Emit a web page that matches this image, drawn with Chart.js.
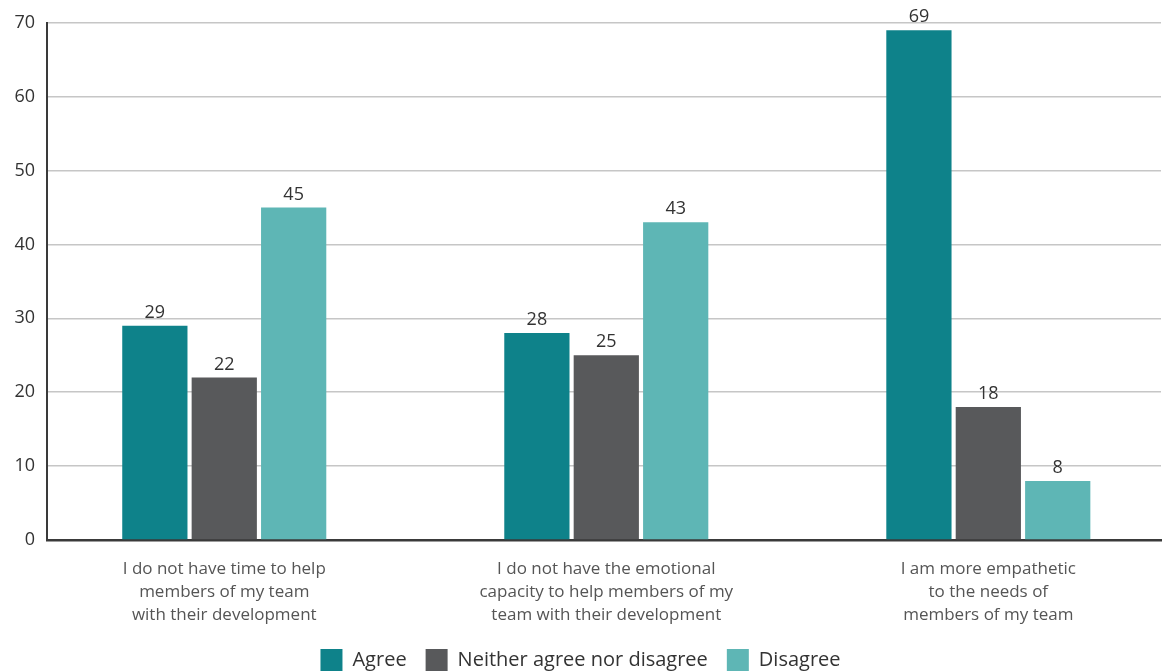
<!DOCTYPE html>
<html>
<head>
<meta charset="utf-8">
<script src="https://cdn.jsdelivr.net/npm/chart.js@4/dist/chart.umd.min.js"></script>
<style>
  html, body { margin: 0; padding: 0; background: #fff; }
  #wrap { width: 1163px; height: 671px; position: relative; }
</style>
</head>
<body>
<div id="wrap"><canvas id="myChart"></canvas></div>
<script>
var categories = [
    ['I do not have time to help', 'members of my team', 'with their development'],
    ['I do not have the emotional', 'capacity to help members of my', 'team with their development'],
    ['I am more empathetic', 'to the needs of', 'members of my team']
];
var seriesNames = ['Agree', 'Neither agree nor disagree', 'Disagree'];
var agree = [29, 28, 69];
var neither = [22, 25, 18];
var disagree = [45, 43, 8];
var yTicks = [0, 10, 20, 30, 40, 50, 60, 70];
var colors = ['#0e828a', '#58595b', '#5eb6b5'];

var FONT = "'Open Sans', 'DejaVu Sans', sans-serif";

function toPoints(arr) {
    return arr.map(function(v, i) { return { x: i, y: v }; });
}

// value labels above each bar
var valueLabels = {
    id: 'valueLabels',
    afterDatasetsDraw: function(chart) {
        var ctx = chart.ctx;
        ctx.save();
        ctx.font = '18px ' + FONT;
        ctx.fillStyle = '#333333';
        ctx.textAlign = 'center';
        ctx.textBaseline = 'bottom';
        chart.data.datasets.forEach(function(ds, di) {
            var meta = chart.getDatasetMeta(di);
            meta.data.forEach(function(bar, i) {
                ctx.fillText(ds.data[i].y, bar.x, bar.y - 4);
            });
        });
        ctx.restore();
    }
};

var myChart = new Chart(document.getElementById('myChart'), {
    type: 'bar',
    data: {
        datasets: [
            { label: seriesNames[0], data: toPoints(agree), backgroundColor: colors[0] },
            { label: seriesNames[1], data: toPoints(neither), backgroundColor: colors[1] },
            { label: seriesNames[2], data: toPoints(disagree), backgroundColor: colors[2] }
        ]
    },
    options: {
        responsive: true,
        maintainAspectRatio: false,
        animation: false,
        categoryPercentage: 0.545,
        barPercentage: 0.94,
        layout: { padding: { top: 12, right: 2, left: 0, bottom: -10 } },
        plugins: {
            tooltip: { enabled: false },
            legend: {
                position: 'bottom',
                labels: {
                    boxWidth: 22,
                    boxHeight: 22,
                    padding: 19,
                    color: '#333333',
                    font: { family: FONT, size: 20 }
                }
            }
        },
        scales: {
            x: {
                type: 'linear',
                offset: false,
                min: -0.464,
                max: 2.452,
                afterBuildTicks: function(scale) {
                    scale.ticks = categories.map(function(c, i) { return { value: i }; });
                },
                afterFit: function(scale) { scale.height = 90; },
                grid: { display: false, drawTicks: false, offset: false },
                border: { display: true, color: '#3a3a3a', width: 2.5 },
                ticks: {
                    padding: 17,
                    maxRotation: 0,
                    autoSkip: false,
                    color: '#555555',
                    font: { family: FONT, size: 17, lineHeight: 1.38 },
                    callback: function(value) { return categories[value]; }
                }
            },
            y: {
                min: 0,
                max: 70,
                afterBuildTicks: function(scale) {
                    scale.ticks = yTicks.map(function(v) { return { value: v }; });
                },
                afterFit: function(scale) { scale.width = 47; },
                grid: { color: '#c6c6c6', lineWidth: 1.5, drawTicks: false },
                border: { display: true, color: '#3a3a3a', width: 2 },
                ticks: {
                    padding: 12,
                    color: '#333333',
                    font: { family: FONT, size: 18 }
                }
            }
        }
    },
    plugins: [valueLabels]
});
</script>
</body>
</html>
